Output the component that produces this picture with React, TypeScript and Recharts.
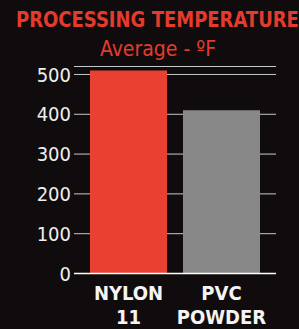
import { BarChart, Bar, XAxis, YAxis, CartesianGrid, Cell } from "recharts";

const categories = ["NYLON 11", "PVC POWDER"];
const labelLines = [
  ["NYLON", "11"],
  ["PVC", "POWDER"],
];
const temps = [510, 410];
const barColors = ["#ea4031", "#888888"];
const yTicks = [0, 100, 200, 300, 400, 500];

const FONT = "'Liberation Sans Narrow', 'DejaVu Sans Condensed', sans-serif";

const data = categories.map((name, i) => ({ name, temp: temps[i], idx: i }));

function CategoryTick(props: any) {
  const { x, y, index } = props;
  const lines = labelLines[index] || [];
  return (
    <text
      x={x}
      y={y}
      textAnchor="middle"
      fill="#f4f4f4"
      fontFamily={FONT}
      fontWeight="bold"
      fontSize={20}
    >
      {lines.map((l, i) => (
        <tspan key={i} x={x} dy={i === 0 ? 18.5 : 23.5}>
          {l}
        </tspan>
      ))}
    </text>
  );
}

export default function App() {
  return (
    <div
      style={{
        position: "fixed",
        left: 0,
        top: 0,
        width: 299,
        height: 329,
        background: "#100c0d",
        overflow: "hidden",
      }}
    >
      <svg
        width={299}
        height={60}
        style={{ position: "absolute", left: 0, top: 0 }}
      >
        {/* title squeezed horizontally to mimic a condensed face */}
        <g transform="translate(16,27) scale(0.91,1)">
          <text
            x={0}
            y={0}
            fill="#e43b2d"
            fontFamily={FONT}
            fontWeight="bold"
            fontSize={22}
          >
            PROCESSING TEMPERATURE
          </text>
        </g>
        <text
          x={100}
          y={56}
          fill="#e43b2d"
          fontFamily={FONT}
          fontSize={22}
          textLength={116}
          lengthAdjust="spacingAndGlyphs"
        >
          Average - ºF
        </text>
      </svg>
      <div style={{ position: "absolute", left: 0, top: 0 }}>
        <BarChart
          width={299}
          height={329}
          data={data}
          margin={{ top: 66.5, right: 23, bottom: 25.5, left: 0 }}
          barCategoryGap={8}
        >
          <CartesianGrid
            horizontal
            vertical={false}
            stroke="#c8c8c8"
            strokeWidth={1}
          />
          <XAxis
            dataKey="name"
            height={30}
            padding={{ left: 8, right: 8 }}
            axisLine={{ stroke: "#ffffff", strokeWidth: 1.5 }}
            tickLine={false}
            tick={<CategoryTick />}
            interval={0}
          />
          <YAxis
            width={74}
            domain={[0, 520]}
            ticks={yTicks}
            axisLine={false}
            tickLine={false}
            tickSize={1}
            tickMargin={2}
            tick={{ fill: "#efefef", fontSize: 20, fontFamily: FONT }}
          />
          <Bar dataKey="temp" isAnimationActive={false}>
            {data.map((d) => (
              <Cell key={d.name} fill={barColors[d.idx]} />
            ))}
          </Bar>
        </BarChart>
      </div>
    </div>
  );
}
